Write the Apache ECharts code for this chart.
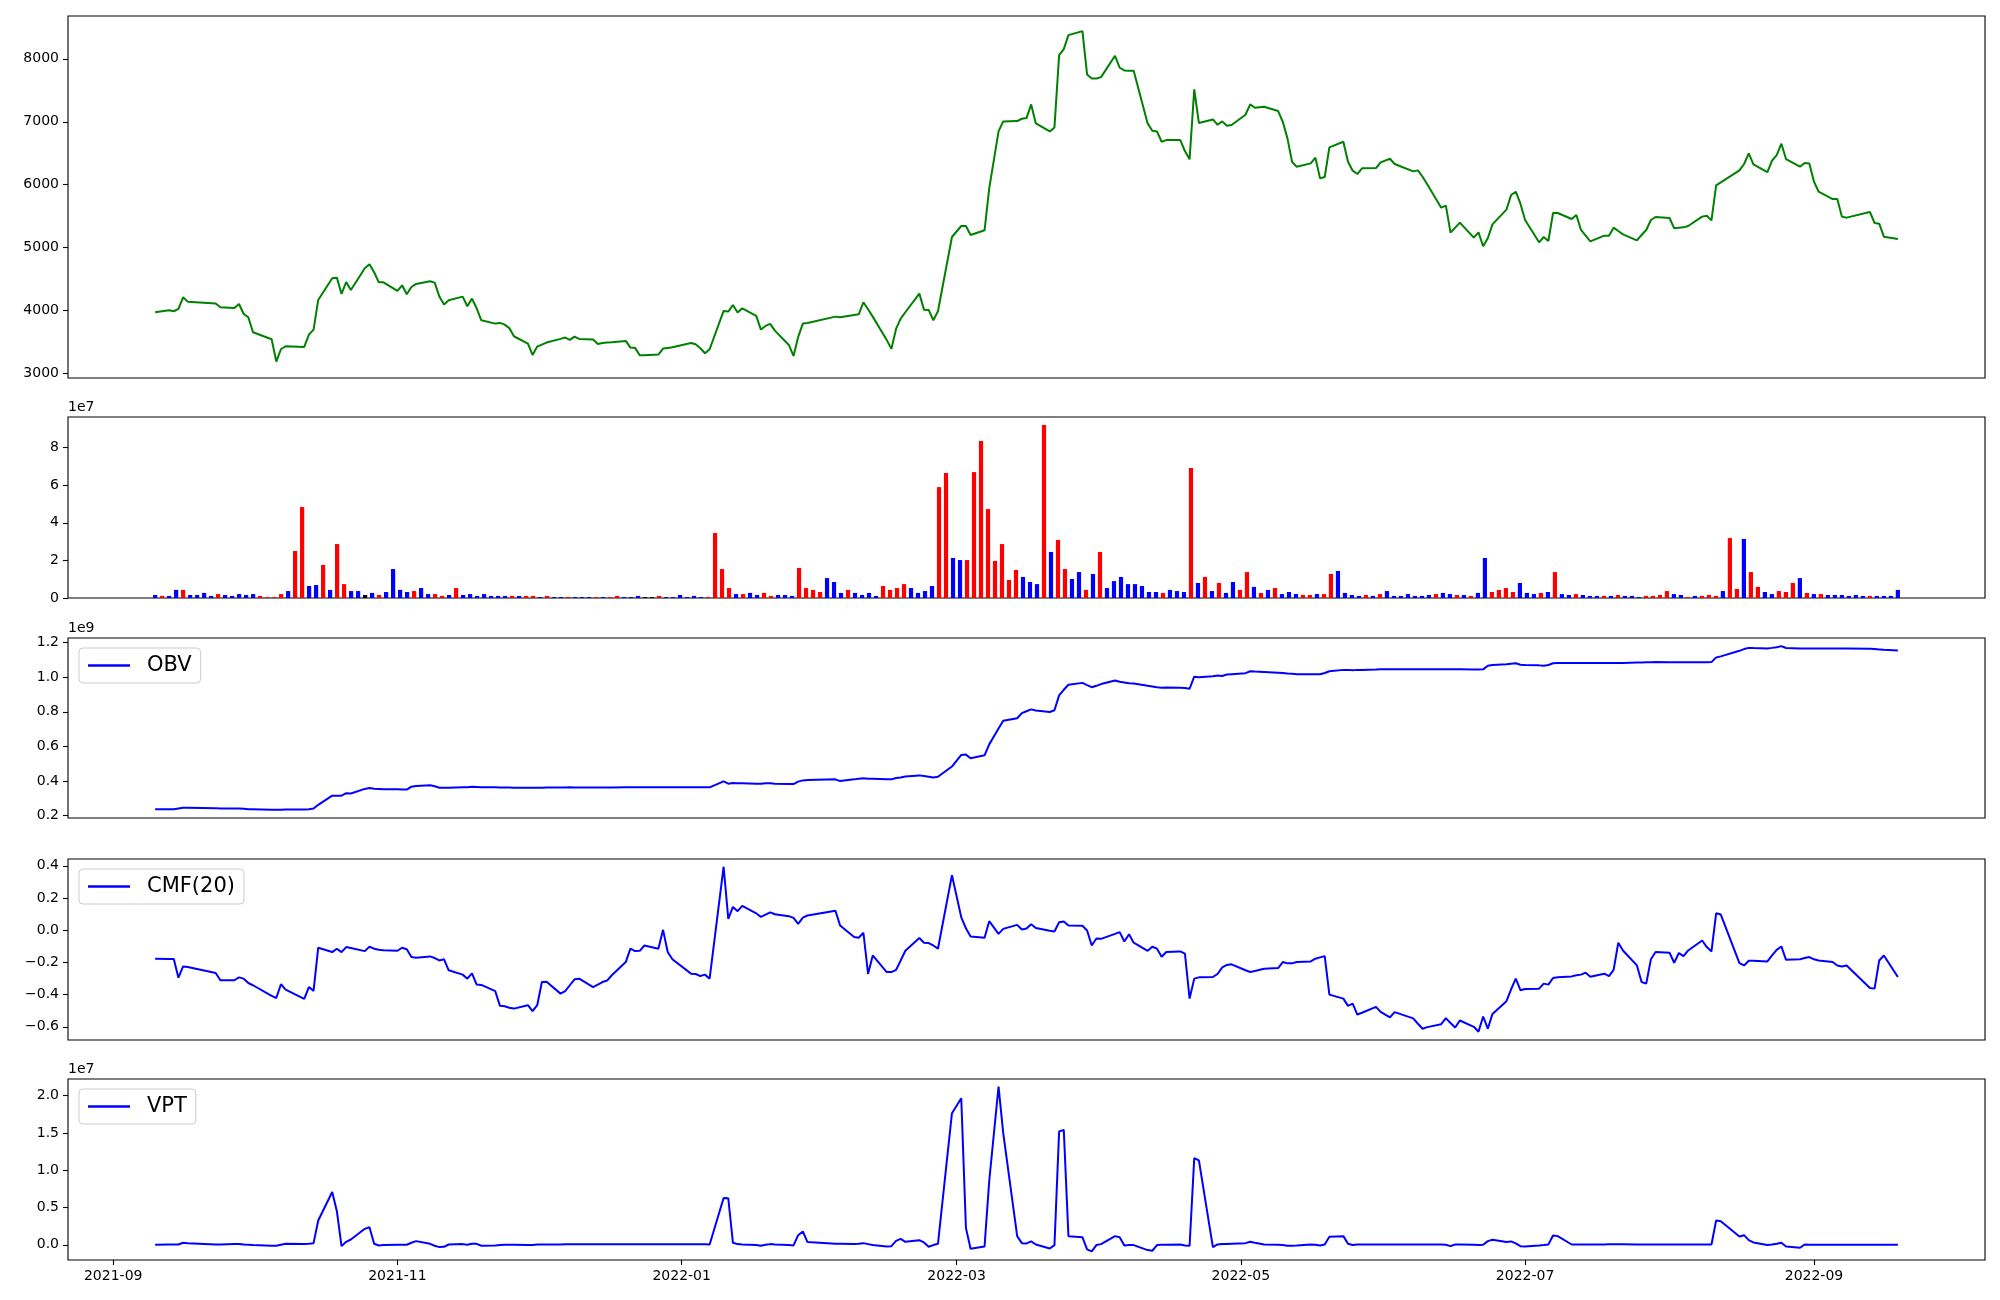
<!DOCTYPE html>
<html><head><meta charset="utf-8">
<script src="https://cdn.jsdelivr.net/npm/echarts@6/dist/echarts.min.js"></script>
<style>html,body{margin:0;padding:0;background:#fff}#c{width:2000px;height:1300px}</style>
</head><body><div id="c"></div>
<script>
// ---------------- DATA ----------------
const dates = [
'2021-09-10','2021-09-13','2021-09-14','2021-09-15','2021-09-16','2021-09-17','2021-09-23','2021-09-24','2021-09-27','2021-09-28','2021-09-29','2021-09-30',
'2021-10-01','2021-10-05','2021-10-06','2021-10-07','2021-10-08','2021-10-12','2021-10-13','2021-10-14','2021-10-15','2021-10-18','2021-10-19','2021-10-20','2021-10-21','2021-10-22','2021-10-25','2021-10-26','2021-10-27','2021-10-28','2021-10-29',
'2021-11-01','2021-11-02','2021-11-03','2021-11-04','2021-11-05','2021-11-08','2021-11-09','2021-11-10','2021-11-11','2021-11-12','2021-11-15','2021-11-16','2021-11-17','2021-11-18','2021-11-19','2021-11-22','2021-11-23','2021-11-24','2021-11-25','2021-11-26','2021-11-29','2021-11-30',
'2021-12-01','2021-12-02','2021-12-03','2021-12-06','2021-12-07','2021-12-08','2021-12-09','2021-12-10','2021-12-13','2021-12-14','2021-12-15','2021-12-16','2021-12-17','2021-12-20','2021-12-21','2021-12-22','2021-12-23','2021-12-24','2021-12-27','2021-12-28','2021-12-29','2021-12-30',
'2022-01-03','2022-01-04','2022-01-05','2022-01-06','2022-01-07','2022-01-10','2022-01-11','2022-01-12','2022-01-13','2022-01-14','2022-01-17','2022-01-18','2022-01-19','2022-01-20','2022-01-21','2022-01-24','2022-01-25','2022-01-26','2022-01-27','2022-01-28',
'2022-02-03','2022-02-04','2022-02-07','2022-02-08','2022-02-09','2022-02-10','2022-02-11','2022-02-14','2022-02-15','2022-02-16','2022-02-17','2022-02-18','2022-02-21','2022-02-22','2022-02-23','2022-02-24','2022-02-25','2022-02-28',
'2022-03-02','2022-03-03','2022-03-04','2022-03-07','2022-03-08','2022-03-10','2022-03-11','2022-03-14','2022-03-15','2022-03-16','2022-03-17','2022-03-18','2022-03-21','2022-03-22','2022-03-23','2022-03-24','2022-03-25','2022-03-28','2022-03-29','2022-03-30','2022-03-31',
'2022-04-01','2022-04-04','2022-04-05','2022-04-06','2022-04-07','2022-04-08','2022-04-11','2022-04-12','2022-04-13','2022-04-14','2022-04-15','2022-04-18','2022-04-19','2022-04-20','2022-04-21','2022-04-22','2022-04-25','2022-04-26','2022-04-27','2022-04-28','2022-04-29',
'2022-05-02','2022-05-03','2022-05-04','2022-05-06','2022-05-09','2022-05-10','2022-05-11','2022-05-12','2022-05-13','2022-05-16','2022-05-17','2022-05-18','2022-05-19','2022-05-20','2022-05-23','2022-05-24','2022-05-25','2022-05-26','2022-05-27','2022-05-30','2022-05-31',
'2022-06-02','2022-06-03','2022-06-07','2022-06-08','2022-06-09','2022-06-10','2022-06-13','2022-06-14','2022-06-15','2022-06-16','2022-06-17','2022-06-20','2022-06-21','2022-06-22','2022-06-23','2022-06-24','2022-06-27','2022-06-28','2022-06-29','2022-06-30',
'2022-07-01','2022-07-04','2022-07-05','2022-07-06','2022-07-07','2022-07-08','2022-07-11','2022-07-12','2022-07-13','2022-07-14','2022-07-15','2022-07-18','2022-07-19','2022-07-20','2022-07-21','2022-07-22','2022-07-25','2022-07-26','2022-07-27','2022-07-28','2022-07-29',
'2022-08-01','2022-08-02','2022-08-03','2022-08-04','2022-08-05','2022-08-08','2022-08-09','2022-08-10','2022-08-11','2022-08-12','2022-08-16','2022-08-17','2022-08-18','2022-08-19','2022-08-22','2022-08-23','2022-08-24','2022-08-25','2022-08-26','2022-08-29','2022-08-30','2022-08-31',
'2022-09-01','2022-09-02','2022-09-05','2022-09-06','2022-09-07','2022-09-08','2022-09-13','2022-09-14','2022-09-15','2022-09-16','2022-09-19'
];

const closePrice = [
3974,4006,3990,4027,4212,4143,4112,4053,4043,4106,3947,3894,
3657,3546,3191,3387,3434,3424,3619,3699,4170,4514,4524,4265,4455,4328,4672,4736,4609,4450,4450,
4313,4403,4260,4376,4424,4466,4445,4223,4096,4164,4223,4069,4191,4037,3847,3794,3805,3778,3723,3593,3477,3297,
3429,3461,3493,3551,3572,3535,3588,3551,3540,3471,3487,3493,3498,3519,3413,3408,3291,3291,3302,3397,3408,3418,
3487,3466,3402,3323,3387,3995,3985,4090,3969,4037,3916,3699,3757,3789,3683,3455,3281,3582,3794,3805,
3905,3895,3932,3942,4133,4021,3905,3535,3392,3709,3873,3974,4270,4016,4011,3847,3990,5170,
5344,5344,5201,5276,5942,6847,7006,7011,7048,7059,7276,6974,6847,6910,8059,8154,8376,8440,7752,7688,7688,
7709,8048,7858,7815,7810,7810,6974,6858,6847,6683,6709,6709,6535,6403,7514,6979,7037,6953,7006,6937,6948,
7112,7276,7223,7239,7170,7000,6736,6360,6286,6339,6429,6101,6122,6593,6683,6366,6223,6170,6260,6265,6355,
6413,6329,6212,6228,6127,6006,5635,5667,5239,5318,5397,5159,5244,5022,5149,5371,5604,5836,5889,5699,
5440,5085,5170,5106,5551,5551,5455,5519,5281,5191,5101,5191,5191,5318,5265,5212,5117,5201,5281,5440,5487,
5471,5307,5318,5323,5344,5493,5508,5434,5990,6037,6228,6329,6498,6323,6201,6381,6471,6651,6408,6286,6344,6339,
6048,5889,5773,5773,5493,5477,5567,5392,5381,5175,5138
];

// volume in units of 1e7
const volumeE7 = [
0.16,0.11,0.11,0.43,0.43,0.16,0.16,0.27,0.11,0.21,0.16,0.11,0.21,0.16,0.21,0.11,0.05,0.05,0.21,0.37,
2.5,4.84,0.64,0.69,1.76,0.43,2.87,0.74,0.37,0.37,0.16,0.27,0.16,0.32,1.54,0.43,0.32,0.37,0.53,0.21,
0.21,0.11,0.16,0.53,0.16,0.21,0.11,0.21,0.11,0.11,0.11,0.11,0.11,0.11,0.11,0.05,0.11,0.05,0.05,0.05,
0.05,0.05,0.05,0.05,0.05,0.05,0.11,0.05,0.05,0.11,0.05,0.05,0.11,0.05,0.05,0.16,0.05,0.11,0.05,0.05,
3.46,1.54,0.53,0.21,0.21,0.27,0.16,0.27,0.11,0.16,0.16,0.11,1.6,0.53,0.43,0.32,1.06,0.85,0.27,0.43,
0.27,0.16,0.27,0.11,0.64,0.43,0.53,0.74,0.53,0.27,0.37,0.64,5.9,6.65,2.13,2.02,2.02,6.7,8.35,4.73,
1.97,2.87,0.96,1.49,1.12,0.85,0.74,9.2,2.45,3.09,1.54,1.01,1.38,0.43,1.28,2.45,0.53,0.9,1.12,0.74,
0.74,0.64,0.32,0.32,0.27,0.43,0.37,0.32,6.91,0.8,1.12,0.37,0.8,0.27,0.85,0.43,1.38,0.59,0.27,0.43,
0.53,0.21,0.32,0.21,0.16,0.16,0.21,0.21,1.28,1.44,0.27,0.16,0.11,0.16,0.11,0.21,0.37,0.11,0.11,0.21,
0.11,0.11,0.16,0.21,0.27,0.21,0.16,0.16,0.11,0.27,2.13,0.32,0.43,0.53,0.32,0.8,0.27,0.21,0.27,0.32,
1.38,0.21,0.16,0.21,0.16,0.11,0.11,0.11,0.11,0.16,0.11,0.11,0.05,0.11,0.11,0.16,0.37,0.21,0.16,0.05,
0.11,0.11,0.16,0.11,0.37,3.19,0.48,3.14,1.38,0.59,0.32,0.21,0.37,0.32,0.8,1.06,0.27,0.21,0.21,0.16,
0.16,0.16,0.11,0.16,0.11,0.11,0.11,0.11,0.11,0.43
];

// bar colour code per day: r = red, b = blue, k = black
const volumeDir =
'brbbrbbbbrbbbbbrrrrb' + 'rrbbrbrrbbkbrbbbbrbb' + 'rrbrbbbbbbbrbrrbrbbr' + 'bbbrbrrbbbkkrbbbbbbr' +
'rrrbrbbrrbbbrrrrbbbr' + 'bbbbrrrrbbbbrrbbrrrr' + 'rrrrbbbrbrrbbrbrbbbb' + 'bbbbrbbbrbrbrbbrrbrb' +
'rbbbrrbrrbbbbrbrbbbb' + 'bbbrbbrbrbbrrrrbbbrb' + 'rbbrbbbrbrbbbrrrrbbr' + 'brrrbrrbrrbbrrrbrbrb' +
'bbbbbrbbbb';

// OBV in units of 1e9
const obvE9 = [
0.238,0.238,0.238,0.242,0.246,0.246,0.244,0.242,0.242,0.242,0.240,0.238,0.238,0.234,0.234,0.234,0.236,0.236,0.238,0.242,
0.263,0.316,0.316,0.316,0.330,0.328,0.355,0.360,0.356,0.355,0.353,0.353,0.351,0.351,0.368,0.372,0.376,0.370,0.362,0.362,
0.362,0.364,0.364,0.368,0.366,0.364,0.364,0.363,0.363,0.363,0.362,0.361,0.361,0.362,0.362,0.363,0.363,0.363,0.364,0.363,
0.363,0.363,0.363,0.363,0.363,0.363,0.364,0.364,0.364,0.364,0.364,0.364,0.364,0.364,0.364,0.364,0.364,0.364,0.364,0.364,
0.398,0.385,0.389,0.387,0.387,0.385,0.385,0.387,0.387,0.385,0.383,0.383,0.397,0.404,0.406,0.410,0.400,0.410,0.414,0.416,
0.414,0.414,0.410,0.410,0.418,0.421,0.427,0.433,0.429,0.425,0.421,0.425,0.484,0.551,0.553,0.532,0.549,0.612,0.704,0.748,
0.763,0.792,0.803,0.814,0.807,0.799,0.809,0.895,0.927,0.956,0.967,0.954,0.942,0.950,0.960,0.981,0.973,0.969,0.965,0.963,
0.950,0.946,0.942,0.939,0.940,0.939,0.937,0.933,1.003,1.000,1.005,1.009,1.007,1.015,1.017,1.023,1.034,1.032,1.030,1.026,
1.024,1.021,1.019,1.017,1.017,1.017,1.017,1.024,1.034,1.042,1.042,1.040,1.042,1.042,1.044,1.045,1.045,1.045,1.045,1.045,
1.045,1.045,1.045,1.045,1.045,1.045,1.045,1.044,1.044,1.045,1.066,1.070,1.074,1.078,1.080,1.072,1.070,1.068,1.066,1.070,
1.080,1.082,1.082,1.082,1.082,1.082,1.082,1.082,1.082,1.082,1.082,1.082,1.084,1.084,1.086,1.086,1.087,1.086,1.086,1.086,
1.086,1.086,1.086,1.086,1.087,1.114,1.120,1.152,1.162,1.169,1.168,1.166,1.169,1.173,1.179,1.168,1.166,1.166,1.166,1.166,
1.166,1.166,1.166,1.166,1.166,1.164,1.162,1.160,1.158,1.154
];

const cmf20 = [
-0.177,-0.179,-0.179,-0.295,-0.225,-0.229,-0.266,-0.311,-0.311,-0.293,-0.301,-0.328,-0.342,-0.408,-0.421,-0.336,-0.369,-0.427,-0.353,-0.377,
-0.109,-0.136,-0.115,-0.136,-0.105,-0.111,-0.130,-0.103,-0.115,-0.122,-0.124,-0.128,-0.109,-0.118,-0.167,-0.171,-0.163,-0.173,-0.188,-0.181,
-0.249,-0.276,-0.301,-0.268,-0.338,-0.340,-0.379,-0.470,-0.472,-0.482,-0.487,-0.466,-0.503,-0.466,-0.322,-0.320,-0.394,-0.379,-0.342,-0.305,
-0.301,-0.353,-0.338,-0.322,-0.313,-0.280,-0.198,-0.115,-0.130,-0.128,-0.095,-0.115,0.002,-0.136,-0.181,-0.270,-0.272,-0.285,-0.276,-0.301,
0.394,0.070,0.144,0.118,0.151,0.105,0.082,0.097,0.111,0.099,0.087,0.076,0.039,0.078,0.091,0.120,0.029,-0.043,-0.047,-0.016,
-0.272,-0.157,-0.260,-0.260,-0.247,-0.188,-0.128,-0.049,-0.078,-0.080,-0.095,-0.115,0.342,0.080,0.012,-0.039,-0.047,0.056,-0.023,0.008,
0.033,0.004,0.010,0.037,0.014,-0.004,-0.008,0.049,0.054,0.029,0.027,-0.002,-0.095,-0.052,-0.054,-0.023,-0.012,-0.070,-0.025,-0.078,
-0.128,-0.103,-0.115,-0.165,-0.136,-0.132,-0.146,-0.425,-0.301,-0.293,-0.291,-0.272,-0.231,-0.216,-0.212,-0.249,-0.260,-0.254,-0.239,-0.235,
-0.198,-0.206,-0.206,-0.198,-0.194,-0.177,-0.169,-0.161,-0.400,-0.425,-0.470,-0.456,-0.524,-0.513,-0.476,-0.507,-0.542,-0.509,-0.548,-0.581,
-0.612,-0.602,-0.584,-0.546,-0.577,-0.604,-0.561,-0.600,-0.631,-0.536,-0.612,-0.520,-0.441,-0.367,-0.301,-0.373,-0.365,-0.363,-0.332,-0.338,
-0.297,-0.293,-0.287,-0.280,-0.276,-0.264,-0.289,-0.270,-0.285,-0.247,-0.078,-0.126,-0.219,-0.322,-0.332,-0.181,-0.136,-0.140,-0.202,-0.142,
-0.161,-0.126,-0.064,-0.105,-0.132,0.105,0.097,-0.204,-0.219,-0.190,-0.190,-0.194,-0.157,-0.122,-0.101,-0.184,-0.181,-0.173,-0.167,-0.181,
-0.188,-0.198,-0.219,-0.225,-0.219,-0.359,-0.363,-0.188,-0.157,-0.291
];

// VPT in units of 1e7
const vptE7 = [
0,0.004,0.004,0.004,0.027,0.022,0.004,0.004,0.009,0.009,0.004,0,-0.004,-0.013,-0.013,0,0.013,0.009,0.013,0.022,
0.325,0.708,0.45,-0.018,0.04,0.071,0.214,0.236,0.013,-0.009,-0.004,0,0,0,0.027,0.049,0.013,-0.013,-0.031,-0.027,
0.004,0.009,0,0.013,0.013,-0.013,-0.009,-0.004,0,0,0,-0.004,-0.004,0.004,0.004,0.004,0.004,0.006,0.006,0.006,
0.006,0.006,0.006,0.006,0.006,0.006,0.006,0.006,0.006,0.006,0.006,0.006,0.006,0.006,0.006,0.006,0.006,0.006,0.006,0.004,
0.628,0.624,0.027,0.009,0.004,-0.004,-0.013,0,0.009,0.004,-0.004,-0.009,0.129,0.178,0.036,0.013,0.013,0.009,0.013,0.022,
0.009,-0.004,-0.022,-0.018,0.053,0.08,0.04,0.062,0.031,-0.027,-0.004,0.013,1.764,1.964,0.227,-0.053,-0.022,0.855,2.12,1.5,
0.116,0.022,0.018,0.045,0.004,-0.049,-0.004,1.519,1.541,0.116,0.102,-0.062,-0.089,-0.004,0.009,0.116,0.102,-0.009,-0.004,-0.004,
-0.071,-0.08,-0.004,0,0,0.004,-0.009,-0.013,1.163,1.131,-0.031,0.004,0.009,0.009,0.013,0.022,0.04,0.027,0.004,0,
-0.004,-0.013,-0.013,-0.009,0.004,0,-0.009,0.004,0.107,0.116,0.013,-0.004,0.004,0.004,0.004,0.004,0.004,0.004,0.004,0.004,
0.004,0.004,0.004,0,-0.018,0.004,0.004,0,-0.004,0,0.049,0.067,0.036,0.045,0.018,-0.018,-0.022,-0.009,-0.004,0.004,
0.125,0.116,0.004,0.004,0.004,0.004,0.004,0.005,0.006,0.006,0.006,0.006,0.005,0.004,0.004,0.004,0.004,0.004,0.004,0.004,
0.004,0.004,0.004,0.004,0.004,0.325,0.316,0.111,0.129,0.062,0.031,-0.004,0.004,0.013,0.027,-0.022,-0.04,0.004,0,0,
0,0,0,0,0,0,0,0,0,0
];

const xTickLabels = ['2021-09','2021-11','2022-01','2022-03','2022-05','2022-07','2022-09'];
const priceTicks = [3000,4000,5000,6000,7000,8000];
const volumeTicks = [0,2,4,6,8];
const obvTicks = [0.2,0.4,0.6,0.8,1.0,1.2];
const cmfTicks = [-0.6,-0.4,-0.2,0.0,0.2,0.4];
const vptTicks = [0.0,0.5,1.0,1.5,2.0];

// ---------------- CHART ----------------
const FONT = 'DejaVu Sans';
const ts = s => { const p = s.split('-').map(Number); return Date.UTC(p[0], p[1]-1, p[2] || 1); };
const t0 = ts(dates[0]), t1 = ts(dates[dates.length-1]);
const span = t1 - t0;
const xMin = t0 - 0.05*span, xMax = t1 + 0.05*span;
const n = dates.length;
const xTickValues = xTickLabels.map(ts);
const colorMap = {r:'#ff0000', b:'#0000ff', k:'#000000'};
const fmtMonth = v => { const d = new Date(v); return d.getUTCFullYear() + '-' + String(d.getUTCMonth()+1).padStart(2,'0'); };

const L = 68, R = 15;
const grids = [
  {top:16, height:362},
  {top:417, height:181},
  {top:638, height:180},
  {top:859, height:181},
  {top:1079, height:181}
].map(g => Object.assign({left:L, right:R, show:true, borderColor:'#000', borderWidth:1.1, backgroundColor:'#fff', containLabel:false}, g));

function dateAxis(gi, showLabels){
  return {
    type:'value', gridIndex:gi, min:xMin, max:xMax, scale:true, position:'bottom',
    axisLine:{show:false, onZero:false}, splitLine:{show:false},
    axisTick:{show:showLabels, length:5, lineStyle:{color:'#000', width:1.1}, customValues: xTickValues},
    axisLabel:{show:showLabels, customValues: xTickValues, fontFamily:FONT, fontSize:14, color:'#000', margin:9,
      formatter: fmtMonth},
    axisPointer:{show:false}
  };
}
function yAxis(gi, min, max, ticks, fmt){
  return {
    type:'value', gridIndex:gi, min:min, max:max, scale:true, position:'left',
    axisLine:{show:false, onZero:false}, splitLine:{show:false},
    axisTick:{show:true, length:5, lineStyle:{color:'#000', width:1.1}, customValues: ticks},
    axisLabel:{customValues: ticks, fontFamily:FONT, fontSize:14, color:'#000', margin:9, formatter: fmt}
  };
}
const minus = v => (v < -1e-9 ? '\u2212' : '') + Math.abs(v).toFixed(1);

const legendBase = {
  orient:'horizontal', selectedMode:false, icon:'rect', itemWidth:42, itemHeight:2.5,
  backgroundColor:'rgba(255,255,255,0.8)', borderColor:'#cccccc', borderWidth:1, borderRadius:4,
  padding:[7,9,7,9],
  textStyle:{fontFamily:FONT, fontSize:21, color:'#000', padding:[0,0,0,12]}
};

const option = {
  animation:false,
  backgroundColor:'#fff',
  grid: grids,
  xAxis: [
    dateAxis(0,false),
    {type:'value', gridIndex:1, min:-0.05*(n-1), max:1.05*(n-1), show:false, splitLine:{show:false}, axisLine:{onZero:false}},
    dateAxis(2,false),
    dateAxis(3,false),
    dateAxis(4,true)
  ],
  yAxis: [
    yAxis(0, 2930, 8680, priceTicks, v => String(Math.round(v))),
    yAxis(1, 0, 9.63, volumeTicks, v => String(Math.round(v))),
    yAxis(2, 0.187, 1.226, obvTicks, v => v.toFixed(1)),
    yAxis(3, -0.682, 0.442, cmfTicks, minus),
    yAxis(4, -0.204, 2.223, vptTicks, v => v.toFixed(1))
  ],
  legend: [
    Object.assign({data:['OBV'], left:79, top:648}, legendBase),
    Object.assign({data:['CMF(20)'], left:79, top:869}, legendBase),
    Object.assign({data:['VPT'], left:79, top:1089}, legendBase)
  ],
  graphic: [
    {type:'text', left:68, top:400, style:{text:'1e7', font:'14px "DejaVu Sans"', fill:'#000'}},
    {type:'text', left:68, top:621, style:{text:'1e9', font:'14px "DejaVu Sans"', fill:'#000'}},
    {type:'text', left:68, top:1062, style:{text:'1e7', font:'14px "DejaVu Sans"', fill:'#000'}}
  ],
  series: [
    {name:'Close', type:'line', xAxisIndex:0, yAxisIndex:0, symbol:'none', clip:true,
     lineStyle:{color:'#008000', width:2}, itemStyle:{color:'#008000'},
     data: dates.map((d,i) => [ts(d), closePrice[i]])},
    {name:'Volume', type:'bar', xAxisIndex:1, yAxisIndex:1, barWidth:4.2,
     data: volumeE7.map((v,i) => ({value:[i, v], itemStyle:{color: colorMap[volumeDir[i]]}}))},
    {name:'OBV', type:'line', xAxisIndex:2, yAxisIndex:2, symbol:'none', clip:true,
     lineStyle:{color:'#0000ff', width:2}, itemStyle:{color:'#0000ff'},
     data: dates.map((d,i) => [ts(d), obvE9[i]])},
    {name:'CMF(20)', type:'line', xAxisIndex:3, yAxisIndex:3, symbol:'none', clip:true,
     lineStyle:{color:'#0000ff', width:2}, itemStyle:{color:'#0000ff'},
     data: dates.map((d,i) => [ts(d), cmf20[i]])},
    {name:'VPT', type:'line', xAxisIndex:4, yAxisIndex:4, symbol:'none', clip:true,
     lineStyle:{color:'#0000ff', width:2}, itemStyle:{color:'#0000ff'},
     data: dates.map((d,i) => [ts(d), vptE7[i]])}
  ]
};
const chart = echarts.init(document.getElementById('c'), null, {renderer:'canvas', width:2000, height:1300});
chart.setOption(option);
</script>
</body></html>
